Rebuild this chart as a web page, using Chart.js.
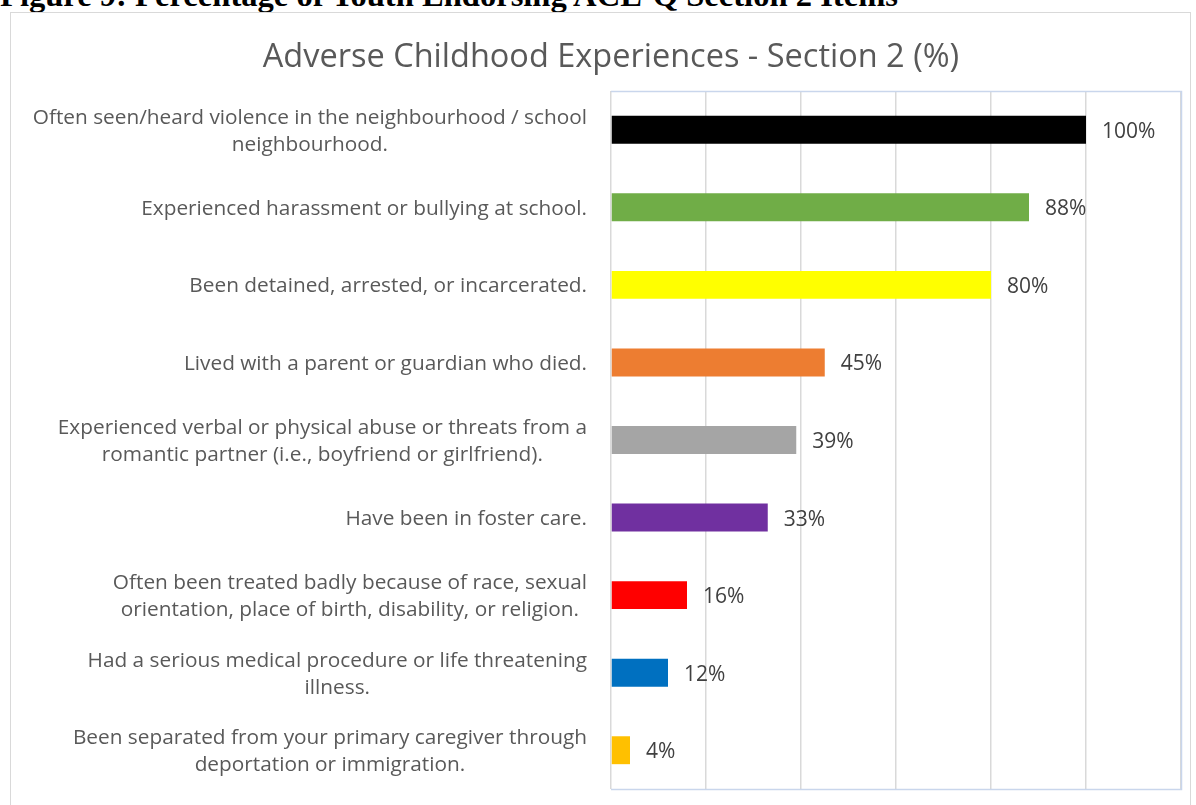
<!DOCTYPE html>
<html>
<head>
<meta charset="utf-8">
<script src="https://cdn.jsdelivr.net/npm/chart.js@4"></script>
<style>
  html, body { margin: 0; padding: 0; background: #fff; overflow: hidden; }
  #caption {
    position: absolute; left: 0; top: -21px; white-space: nowrap;
    font: bold 32.6px "Liberation Serif", "Times New Roman", serif; color: #000;
    line-height: 32px;
  }
  #frame {
    position: absolute; left: 10px; top: 12px; width: 1181px; height: 820px;
    border: 1.5px solid #d9d9d9; box-sizing: border-box;
  }
  #wrap { position: absolute; left: 0; top: 0; width: 1196px; height: 805px; }
</style>
</head>
<body>
<div id="caption">Figure 9: Percentage of Youth Endorsing ACE-Q Section 2 Items</div>
<div id="frame"></div>
<div id="wrap"><canvas id="aceChart"></canvas></div>
<script>
// ACE-Q section 2 items, top to bottom
const categories = [
    ['Often seen/heard violence in the neighbourhood / school', 'neighbourhood.'],
    ['Experienced harassment or bullying at school.'],
    ['Been detained, arrested, or incarcerated.'],
    ['Lived with a parent or guardian who died.'],
    ['Experienced verbal or physical abuse or threats from a', 'romantic partner (i.e., boyfriend or girlfriend).'],
    ['Have been in foster care.'],
    ['Often been treated badly because of race, sexual', 'orientation, place of birth, disability, or religion.'],
    ['Had a serious medical procedure or life threatening', 'illness.'],
    ['Been separated from your primary caregiver through', 'deportation or immigration.']
];
const percentages = [100, 88, 80, 45, 39, 33, 16, 12, 4];
const barColors = ['#000000', '#70ad47', '#ffff00', '#ed7d31', '#a5a5a5', '#7030a0', '#ff0000', '#0070c0', '#ffc000'];

const chartTitle = 'Adverse Childhood Experiences - Section 2 (%)';
const FONT = '"Open Sans", Lato, sans-serif';

// Title centred over the plot's left edge region, as in the office chart
const titleText = {
    id: 'titleText',
    afterDraw(chart) {
        const ctx = chart.ctx;
        ctx.save();
        ctx.font = '32.5px ' + FONT;
        ctx.fillStyle = '#595959';
        ctx.textAlign = 'center';
        ctx.textBaseline = 'middle';
        ctx.fillText(chartTitle, 611, 58);
        ctx.restore();
    }
};

// Category labels: block right-aligned to the axis, lines centred within the block
const categoryLabels = {
    id: 'categoryLabels',
    afterDraw(chart) {
        const ctx = chart.ctx;
        const yScale = chart.scales.y;
        const right = chart.chartArea.left - 24;
        ctx.save();
        ctx.font = '20.8px ' + FONT;
        ctx.fillStyle = '#595959';
        ctx.textAlign = 'center';
        ctx.textBaseline = 'middle';
        categories.forEach((lines, i) => {
            const y = yScale.getPixelForTick(i) + 1.5;
            const w = Math.max(...lines.map(l => ctx.measureText(l).width));
            const cx = right - w / 2;
            const step = 27;
            const y0 = y - (lines.length - 1) * step / 2;
            lines.forEach((l, j) => ctx.fillText(l, cx, y0 + j * step));
        });
        ctx.restore();
    }
};

// Percent labels just past the end of each bar
const valueLabels = {
    id: 'valueLabels',
    afterDatasetsDraw(chart) {
        const ctx = chart.ctx;
        const meta = chart.getDatasetMeta(0);
        ctx.save();
        ctx.font = '21px ' + FONT;
        ctx.fillStyle = '#404040';
        ctx.textAlign = 'left';
        ctx.textBaseline = 'middle';
        meta.data.forEach((bar, i) => {
            ctx.fillText(percentages[i] + '%', bar.x + 16, bar.y + 2);
        });
        ctx.restore();
    }
};

// Light blue outline round the plot area
const plotOutline = {
    id: 'plotOutline',
    beforeDatasetsDraw(chart) {
        const { left, top, right, bottom } = chart.chartArea;
        const ctx = chart.ctx;
        ctx.save();
        ctx.strokeStyle = '#c9d6ec';
        ctx.lineWidth = 1.5;
        ctx.beginPath();
        ctx.moveTo(left, top + 0.5);
        ctx.lineTo(right + 0.5, top + 0.5);
        ctx.lineTo(right + 0.5, bottom + 0.5);
        ctx.lineTo(left, bottom + 0.5);
        ctx.stroke();
        ctx.restore();
    }
};

new Chart(document.getElementById('aceChart'), {
    type: 'bar',
    data: {
        labels: categories,
        datasets: [{
            data: percentages,
            backgroundColor: barColors,
            borderWidth: 0,
            barPercentage: 0.36,
            categoryPercentage: 1
        }]
    },
    options: {
        indexAxis: 'y',
        responsive: true,
        maintainAspectRatio: false,
        animation: false,
        layout: { padding: { left: 611, right: 15, top: 91, bottom: 16 } },
        scales: {
            x: {
                min: 0,
                max: 120,
                ticks: { display: false, stepSize: 20 },
                grid: { color: '#d9d9d9', lineWidth: 1.5, drawTicks: false },
                border: { display: false }
            },
            y: { display: false }
        },
        plugins: {
            legend: { display: false },
            tooltip: { enabled: false },
            title: { display: false }
        }
    },
    plugins: [titleText, categoryLabels, valueLabels, plotOutline]
});
</script>
</body>
</html>
